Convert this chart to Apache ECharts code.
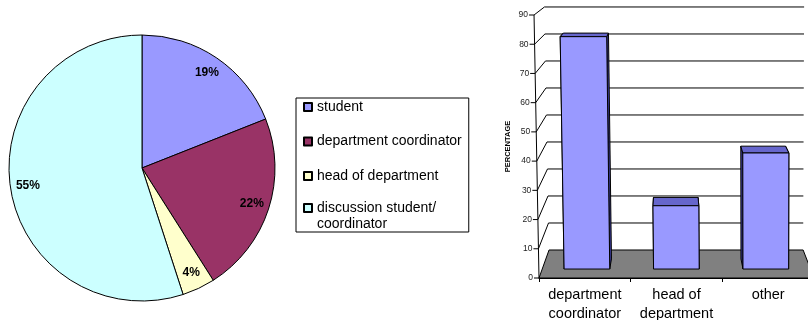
<!DOCTYPE html>
<html>
<head>
<meta charset="utf-8">
<script src="https://cdn.jsdelivr.net/npm/echarts@6/dist/echarts.min.js"></script>
<style>
  html, body { margin: 0; padding: 0; background: #ffffff; }
  #main { width: 808px; height: 320px; }
</style>
</head>
<body>
<div id="main"></div>
<script>
// Who decides: shares of answers (pie)
const pieNames = ['student', 'department coordinator', 'head of department', 'discussion student/\ncoordinator'];
const pieValues = [19, 22, 4, 55];

// Who should decide: percentage per answer (columns)
const barCategories = ['department\ncoordinator', 'head of\ndepartment', 'other'];
const barValues = [81.5, 22.2, 40.7];
const yTicks = [0, 10, 20, 30, 40, 50, 60, 70, 80, 90];

const pieColors = ['#9999FF', '#993366', '#FFFFCC', '#CCFFFF'];
const FONT = "'Liberation Sans', Arial, Helvetica, sans-serif";

// Perspective of the 3-D column plot, given as fractions of the front plane
const VIEW = {
  vpX: 0.48,      // depth vanishing point, horizontal
  vpY: -0.4015,   // depth vanishing point, vertical (above the plot)
  shrink: 0.076,  // scale lost from front to back wall
  vX: 0.822,      // where upright edges converge, horizontal
  vK: 45.6,       // how weakly upright edges converge
  front: 0.32,    // depth of the column fronts
  back: 0.68,     // depth of the column backs
  barRatio: 0.51  // column width as part of a category band
};

function makeProjector(cs) {
  const vpx = cs.x + cs.width * VIEW.vpX;
  const vpy = cs.y + cs.height * VIEW.vpY;
  const vx = cs.x + cs.width * VIEW.vX;
  const k = cs.height * VIEW.vK;
  const base = cs.y + cs.height;
  return function (xf, yf, d) {
    const x1 = xf - (vx - xf) * (base - yf) / k;
    const f = 1 - d * VIEW.shrink;
    return [vpx + (x1 - vpx) * f, vpy + (yf - vpy) * f];
  };
}

// Floor, back-wall gridlines, side-wall lines, value axis with its labels
function renderFrame(params, api) {
  const cs = params.coordSys;
  const P = makeProjector(cs);
  const v = api.value(1);
  const y = api.coord([0, v])[1];
  const xl = cs.x, xr = cs.x + cs.width;
  const line = '#000';
  const children = [];
  if (params.dataIndex === 0) {
    children.push({
      type: 'polygon',
      shape: { points: [P(xl, y, 0), P(xr, y, 0), P(xr, y, 1), P(xl, y, 1)] },
      style: { fill: '#808080', stroke: '#000', lineWidth: 1 }
    });
    const yTop = api.coord([0, yTicks[yTicks.length - 1]])[1];
    const a = P(xl, y, 0), b = P(xl, yTop, 0);
    children.push({
      type: 'line',
      shape: { x1: a[0], y1: a[1], x2: b[0], y2: b[1] },
      style: { stroke: '#000', lineWidth: 1 }
    });
  } else {
    const a = P(xl, y, 1), b = P(xr, y, 1);
    children.push({
      type: 'line',
      shape: { x1: a[0], y1: a[1], x2: b[0], y2: b[1] },
      style: { stroke: line, lineWidth: 1 }
    });
    const c = P(xl, y, 0);
    children.push({
      type: 'line',
      shape: { x1: c[0], y1: c[1], x2: a[0], y2: a[1] },
      style: { stroke: line, lineWidth: 1 }
    });
  }
  const p0 = P(xl, y, 0);
  children.push({
    type: 'line',
    shape: { x1: p0[0] - 5, y1: p0[1], x2: p0[0], y2: p0[1] },
    style: { stroke: '#000', lineWidth: 1 }
  });
  children.push({
    type: 'text',
    style: {
      x: p0[0] - 6, y: p0[1], text: String(v),
      align: 'right', verticalAlign: 'middle',
      fill: '#222', font: '8.5px ' + FONT
    }
  });
  return { type: 'group', children: children };
}

// One 3-D column: hidden and visible sides, top, then the front face
function renderColumn(params, api) {
  const cs = params.coordSys;
  const P = makeProjector(cs);
  const idx = api.value(0);
  const base = api.coord([idx, 0]);
  const top = api.coord([idx, api.value(1)]);
  const hw = api.size([1, 0])[0] * VIEW.barRatio / 2;
  const xa = base[0] - hw, xb = base[0] + hw, y0 = base[1], y1 = top[1];
  const F = (x, y) => P(x, y, VIEW.front);
  const B = (x, y) => P(x, y, VIEW.back);
  const st = fill => ({ fill: fill, stroke: '#000', lineWidth: 1 });
  return {
    type: 'group',
    children: [
      { type: 'polygon', shape: { points: [F(xa, y0), F(xa, y1), B(xa, y1), B(xa, y0)] }, style: st('#3c3c99') },
      { type: 'polygon', shape: { points: [F(xb, y0), F(xb, y1), B(xb, y1), B(xb, y0)] }, style: st('#3c3c99') },
      { type: 'polygon', shape: { points: [F(xa, y1), F(xb, y1), B(xb, y1), B(xa, y1)] }, style: st('#6666CC') },
      { type: 'polygon', shape: { points: [F(xa, y0), F(xb, y0), F(xb, y1), F(xa, y1)] }, style: st('#9999FF') }
    ]
  };
}

const pieData = pieNames.map((n, i) => ({ name: n, value: pieValues[i], itemStyle: { color: pieColors[i] } }));
const legendText = { fontFamily: FONT, fontSize: 14, lineHeight: 16, color: '#000' };

const option = {
  animation: false,
  backgroundColor: '#ffffff',
  legend: [
    {
      data: pieNames.slice(0, 3),
      orient: 'vertical',
      left: 296, top: 98,
      padding: [1, 7, 48, 7],
      itemGap: 18.5,
      itemWidth: 8, itemHeight: 8,
      icon: 'rect',
      borderColor: '#000', borderWidth: 1,
      selectedMode: false,
      textStyle: legendText
    },
    {
      // two-line entry: an empty leading line keeps the swatch beside the first line
      data: [pieNames[3]],
      formatter: name => '\n' + name,
      orient: 'vertical',
      left: 303, top: 184,
      padding: 0,
      itemWidth: 8, itemHeight: 8,
      icon: 'rect',
      selectedMode: false,
      textStyle: legendText
    }
  ],
  grid: {
    left: 539, top: 15, width: 275, height: 263,
    outerBoundsMode: 'none', containLabel: false
  },
  xAxis: {
    type: 'category',
    data: barCategories,
    boundaryGap: true,
    axisLine: { show: true, lineStyle: { color: '#000', width: 1 } },
    axisTick: { show: true, length: 4, lineStyle: { color: '#000' } },
    axisLabel: {
      interval: 0, margin: 7,
      fontFamily: FONT, fontSize: 14.5, lineHeight: 19, color: '#000'
    },
    splitLine: { show: false }
  },
  yAxis: {
    type: 'value',
    min: 0, max: 90, interval: 10,
    name: 'PERCENTAGE',
    nameLocation: 'middle',
    nameRotate: 90,
    nameGap: 27,
    nameTextStyle: { fontFamily: FONT, fontSize: 7.5, fontWeight: 'bold', color: '#000' },
    axisLine: { show: false },
    axisTick: { show: false },
    axisLabel: { show: false },
    splitLine: { show: false }
  },
  series: [
    {
      type: 'pie',
      center: [142, 168],
      radius: 133,
      startAngle: 90,
      clockwise: true,
      avoidLabelOverlap: false,
      label: { show: false },
      labelLine: { show: false },
      itemStyle: { borderColor: '#000', borderWidth: 1 },
      emphasis: { disabled: true },
      data: pieData
    },
    {
      // percentage labels sitting near the rim of each slice
      type: 'pie',
      center: [142, 168],
      radius: [92, 133],
      startAngle: 90,
      clockwise: true,
      silent: true,
      legendHoverLink: false,
      avoidLabelOverlap: false,
      itemStyle: { color: 'rgba(0,0,0,0)', borderWidth: 0 },
      label: {
        show: true, position: 'inside', formatter: '{c}%',
        fontFamily: FONT, fontSize: 12, fontWeight: 'bold', color: '#000'
      },
      labelLine: { show: false },
      emphasis: { disabled: true },
      data: pieNames.map((n, i) => ({ name: n, value: pieValues[i] }))
    },
    {
      type: 'custom',
      renderItem: renderFrame,
      silent: true,
      data: yTicks.map(v => [0, v]),
      z: 1
    },
    {
      type: 'custom',
      renderItem: renderColumn,
      silent: true,
      data: barValues.map((v, i) => [i, v]),
      z: 2
    }
  ]
};

const chart = echarts.init(document.getElementById('main'), null, { renderer: 'canvas' });
chart.setOption(option);
</script>
</body>
</html>
